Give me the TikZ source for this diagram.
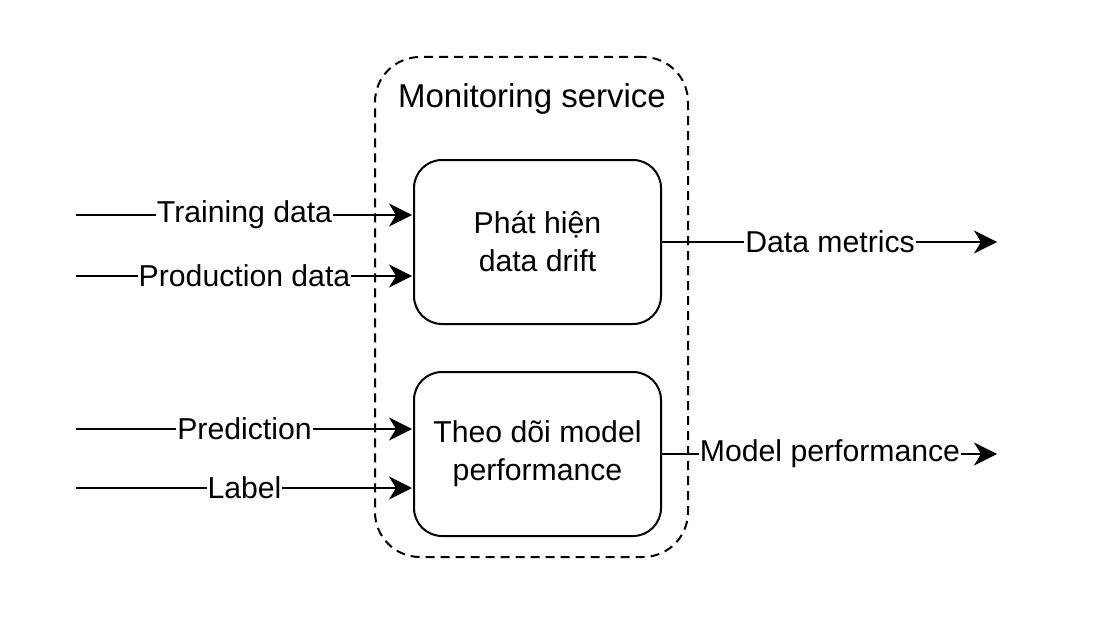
\documentclass[tikz,border=0pt]{standalone}
\usepackage{fontspec}
\setmainfont{Liberation Sans}
\usetikzlibrary{positioning, arrows.meta}

\begin{document}
\begin{tikzpicture}[x=1pt, y=-1pt, line width=2pt, shorten >= 1pt, node distance = 212pt, on grid,
    >={Stealth[length=23pt, width=23pt, inset=7pt]},
    block/.style={draw, rounded corners=28pt, minimum width=247pt, minimum height=164pt,
      align=center, font=\fontsize{30.2}{38}\selectfont},
    service/.style={draw, dash pattern=on 9pt off 6pt, rounded corners=45pt,
      minimum width=313pt, minimum height=500pt},
    lbl/.style={fill=white, inner sep=1pt, font=\fontsize{30.2}{35}\selectfont}]
  \useasboundingbox (0,0) rectangle (1118,623);
  \node[service] (svc) at (531.5,307) {};
  \node[anchor=base, font=\fontsize{33}{40}\selectfont] (title) at (532,107) {Monitoring service};
  \node[block] (drift) at (537.5,242) {Phát hiện\\data drift};
  \node[block] [below=of drift] (perf) {Theo dõi model\\performance};
  % free ends
  \coordinate (train) at (76,215);
  \coordinate (prod) at (76,276);
  \coordinate (pred) at (76,429);
  \coordinate (label) at (76,488);
  \coordinate (metrics) at (998,242);
  \coordinate (mperf) at (998,454);
  \path[->]
    (train) edge node[lbl] {Training data} (train -| drift.west)
    (prod) edge node[lbl] {Production data} (prod -| drift.west)
    (pred) edge node[lbl] {Prediction} (pred -| perf.west)
    (label) edge node[lbl] {Label} (label -| perf.west)
    (drift.east) edge node[lbl] {Data metrics} (metrics)
    (perf.east) edge node[lbl] {Model performance} (mperf);
\end{tikzpicture}
\end{document}
